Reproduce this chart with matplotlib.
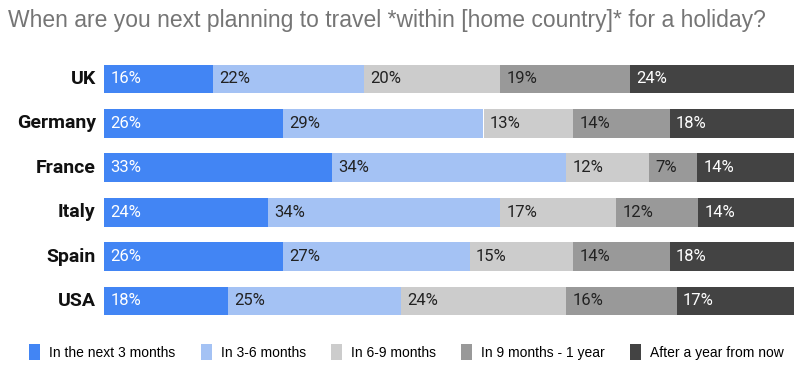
import matplotlib.pyplot as plt
import numpy as np

countries = ["UK", "Germany", "France", "Italy", "Spain", "USA"]
categories = ["In the next 3 months", "In 3-6 months", "In 6-9 months",
              "In 9 months - 1 year", "After a year from now"]
next_3 = [16, 26, 33, 24, 26, 18]
m3_6 = [22, 29, 34, 34, 27, 25]
m6_9 = [20, 13, 12, 17, 15, 24]
m9_12 = [19, 14, 7, 12, 14, 16]
after_year = [24, 18, 14, 14, 18, 17]

colors = ["#4285f4", "#a4c2f4", "#cccccc", "#999999", "#434343"]
text_colors = ["white", "#222222", "#222222", "#222222", "white"]

series = np.array([next_3, m3_6, m6_9, m9_12, after_year], dtype=float)
shares = series / series.sum(axis=0)

fig = plt.figure(figsize=(8, 3.71), dpi=100)
ax = fig.add_axes([0.13, 0.129, 0.8625, 0.718])

y = np.arange(len(countries))
left = np.zeros(len(countries))
for i, cat in enumerate(categories):
    ax.barh(y, shares[i], left=left, height=0.65, color=colors[i],
            label=cat, edgecolor="none")
    for j in range(len(countries)):
        ax.text(left[j] + 0.009, y[j], f"{int(series[i, j])}%",
                va="center", ha="left", fontsize=12, color=text_colors[i],
                family="Roboto")
    left += shares[i]

ax.set_xlim(0, 1)
ax.set_ylim(len(countries) - 0.5, -0.5)
ax.axis("off")

for j, c in enumerate(countries):
    ax.text(-0.012, y[j], c, ha="right", va="center", fontsize=14,
            fontweight="bold", family="Roboto", color="#111111")

fig.text(0.01, 0.945, "When are you next planning to travel *within [home country]* for a holiday?",
         fontsize=16.5, color="#757575", family="Liberation Sans", va="center")

fig.legend(loc="center", bbox_to_anchor=(0.508, 0.051), ncol=5, frameon=False,
           handlelength=0.8, handleheight=1.3, columnspacing=1.8,
           handletextpad=0.65, prop={"family": "Liberation Sans", "size": 10})

fig.savefig("out.png", dpi=100)
